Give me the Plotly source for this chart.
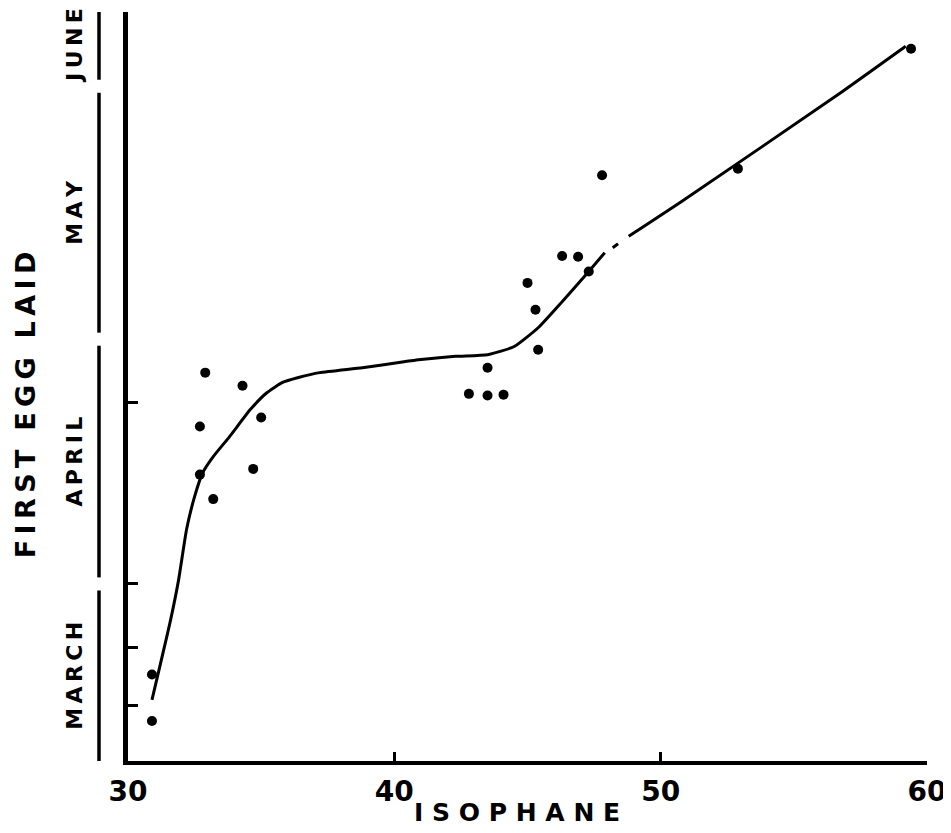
import plotly.graph_objects as go

# ---- data (y = days after 1 March) ----
iso_pts = [30.9, 30.9, 32.9, 34.3, 35.0, 32.7, 32.7, 34.7, 33.2, 46.3, 46.9,
           47.3, 45.0, 45.3, 45.4, 43.5, 42.8, 43.5, 44.1, 47.8, 52.9, 59.4]
day_pts = [19.9, 14.2, 56.9, 55.3, 51.4, 50.3, 44.4, 45.1, 41.4, 71.2, 71.1,
           69.3, 67.9, 64.6, 59.7, 57.5, 54.3, 54.1, 54.2, 81.1, 81.9, 96.6]

curve_iso = [30.9, 31.6, 31.9, 32.2, 32.5, 32.8, 33.2, 33.8, 34.6, 35.2, 35.8,
             36.4, 37.2, 38.8, 40.3, 41.0, 42.3, 43.5, 44.5, 45.4, 46.3, 47.3,
             47.9, None, 48.2, 48.4, None, 48.8, 50.8, 56.8, 59.2]
curve_day = [16.8, 26.6, 31.5, 37.7, 41.7, 44.6, 46.6, 49.0, 52.4, 54.4, 55.7,
             56.3, 56.9, 57.5, 58.2, 58.5, 58.9, 59.1, 60.1, 62.4, 65.6, 69.3,
             71.6, None, 72.2, 72.7, None, 73.6, 77.9, 91.3, 96.9]

x_ticks = [30, 40, 50, 60]
y_tick_days = [16.1, 23.2, 31.1, 53.2]
months = ["MARCH", "APRIL", "MAY", "JUNE"]
month_starts = [31, 61, 92]  # 1 April, 1 May, 1 June

Y_MIN, Y_MAX = 9.3, 101.1
FONT = "DejaVu Sans"

fig = go.Figure()
fig.add_trace(go.Scatter(x=curve_iso, y=curve_day, mode="lines",
                         line=dict(color="black", width=3, shape="spline", smoothing=0.5),
                         connectgaps=False, hoverinfo="skip"))
fig.add_trace(go.Scatter(x=iso_pts, y=day_pts, mode="markers",
                         marker=dict(color="black", size=10)))

nb = "\u00a0"
ts = "\u2009"
def spaced(s, sep=nb, wsep=nb * 2):
    return wsep.join(sep.join(list(w)) for w in s.split(" "))

# segmented month line left of axis
bounds = [Y_MIN] + month_starts + [Y_MAX]
gap = 0.8
sx = -0.0363
for i, name in enumerate(months):
    lo = bounds[i] + (gap if i > 0 else 0)
    hi = bounds[i + 1] - (gap if i < len(months) - 1 else 0)
    fig.add_shape(type="line", xref="paper", yref="y", x0=sx, x1=sx, y0=lo, y1=hi,
                  line=dict(color="black", width=3.5))
    fig.add_annotation(xref="paper", yref="y", x=-0.0663, y=(lo + hi) / 2,
                       text=spaced(name, ts), textangle=-90, showarrow=False,
                       font=dict(family=FONT, size=22, color="black", weight="bold"),
                       xanchor="center", yanchor="middle")

fig.add_annotation(xref="paper", yref="y", x=-0.1289, y=52.9,
                   text=spaced("FIRST EGG LAID", ts, nb * 2),
                   textangle=-90, showarrow=False, xanchor="center", yanchor="middle",
                   borderpad=0,
                   font=dict(family=FONT, size=27, color="black", weight="bold"))
fig.add_annotation(xref="paper", yref="paper", x=0.487, y=-0.0694, text=spaced("ISOPHANE"),
                   showarrow=False, xanchor="center", yanchor="middle",
                   font=dict(family=FONT, size=25, color="black", weight="bold"))

fig.update_xaxes(range=[30, 60], tickvals=x_ticks, ticktext=[str(v) for v in x_ticks],
                 showgrid=False, zeroline=False, showline=True, linecolor="black", linewidth=4,
                 ticks="inside", ticklen=9, tickwidth=2.5, tickcolor="black",
                 tickfont=dict(family=FONT, size=28, color="black", weight="bold"),
                 ticklabelstandoff=2, automargin=False)
fig.update_yaxes(range=[Y_MIN, Y_MAX], tickvals=y_tick_days, showticklabels=False,
                 showgrid=False, zeroline=False, showline=True, linecolor="black", linewidth=5,
                 ticks="inside", ticklen=10, tickwidth=2.5, tickcolor="black",
                 automargin=False)

fig.update_layout(width=943, height=825, showlegend=False,
                  paper_bgcolor="white", plot_bgcolor="white",
                  margin=dict(l=120, r=24, t=4, b=72, autoexpand=False))
fig.write_html("out.html")
